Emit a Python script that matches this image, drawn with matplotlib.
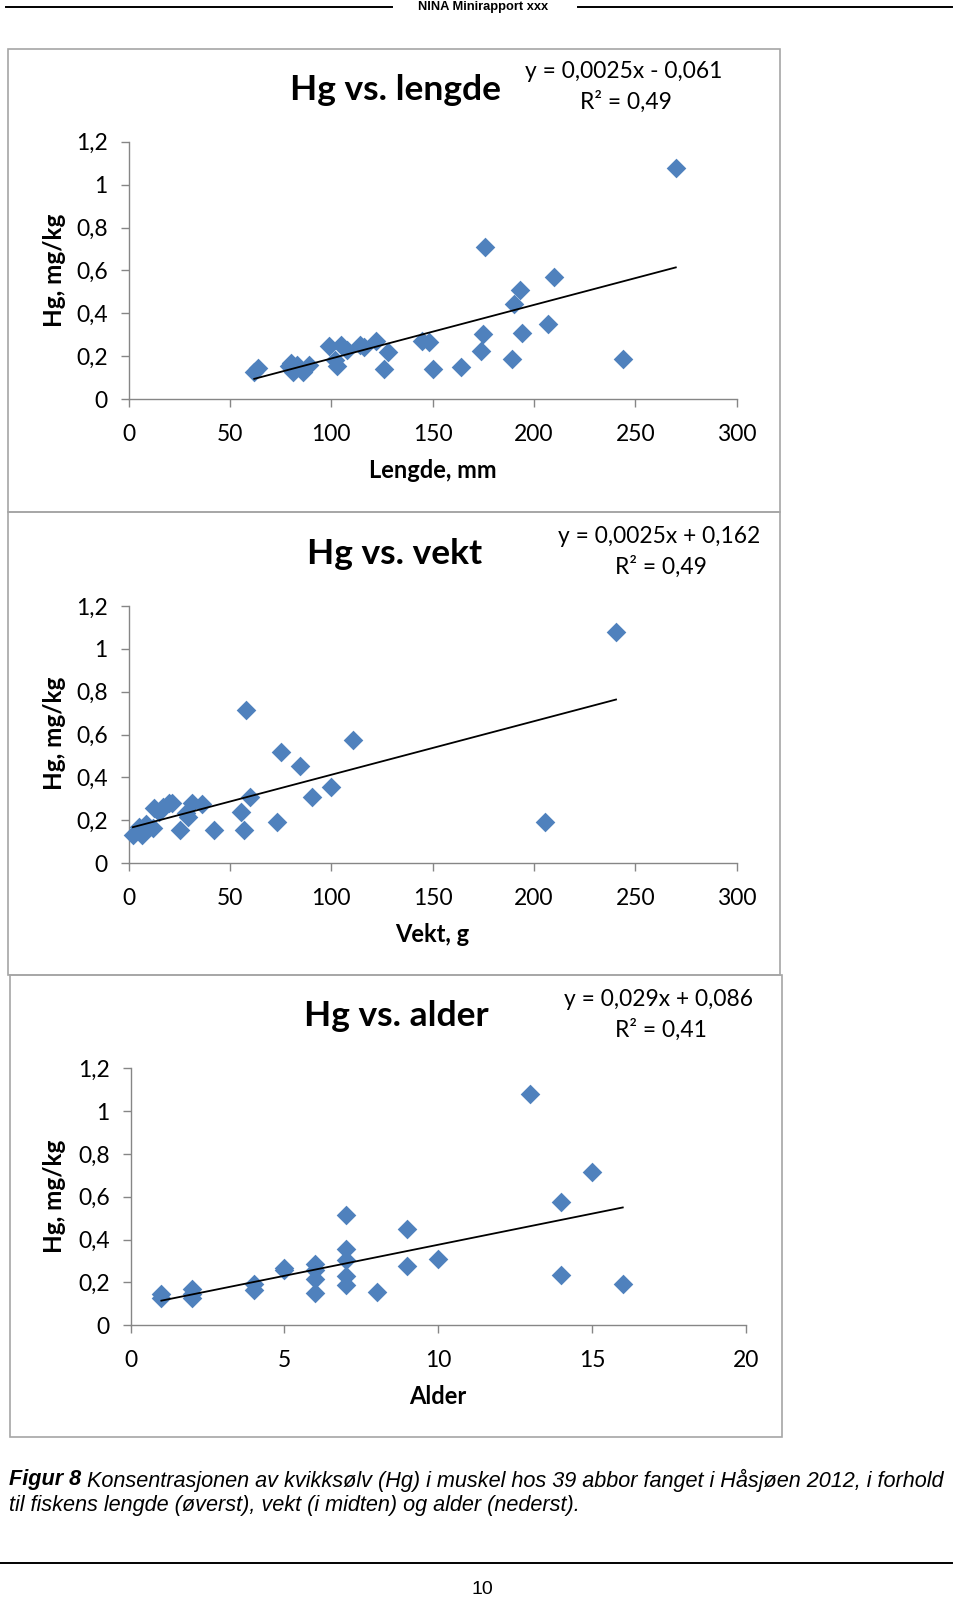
import numpy as np
import matplotlib.pyplot as plt
from matplotlib.patches import Rectangle
from matplotlib.lines import Line2D

# Data
lengde = [62, 64, 79, 80, 81, 83, 86, 89, 99, 102, 103, 105, 108, 114, 116, 122,
          126, 128, 145, 148, 150, 164, 174, 175, 176, 189, 190, 193, 194, 207,
          210, 244, 270]
hg_lengde = [0.125, 0.143, 0.156, 0.167, 0.125, 0.16, 0.125, 0.16, 0.246, 0.182,
             0.154, 0.251, 0.23, 0.254, 0.241, 0.269, 0.142, 0.218, 0.269, 0.265,
             0.142, 0.148, 0.226, 0.303, 0.711, 0.185, 0.445, 0.51, 0.307, 0.35,
             0.568, 0.187, 1.079]

vekt = [2.1, 5.0, 6.6, 8.7, 11.8, 12.4, 14.9, 17, 20.1, 21.6, 25.3, 28.4, 29.4,
        31.1, 36.1, 41.9, 55.3, 57, 57.8, 60.1, 73, 75, 84.8, 90.4, 99.7, 110.9,
        205.6, 240.5]
hg_vekt = [0.131, 0.169, 0.131, 0.182, 0.162, 0.255, 0.239, 0.263, 0.278, 0.278,
           0.154, 0.232, 0.213, 0.278, 0.275, 0.154, 0.236, 0.154, 0.716, 0.309,
           0.193, 0.516, 0.452, 0.309, 0.356, 0.573, 0.193, 1.078]

alder = [1, 1, 2, 2, 2, 4, 4, 5, 5, 6, 6, 6, 6, 7, 7, 7, 7, 7, 8, 9, 9, 10,
         13, 14, 14, 15, 16]
hg_alder = [0.147, 0.129, 0.171, 0.147, 0.129, 0.191, 0.163, 0.268, 0.256,
            0.284, 0.256, 0.217, 0.152, 0.516, 0.357, 0.307, 0.229, 0.186,
            0.155, 0.45, 0.276, 0.31, 1.078, 0.574, 0.237, 0.716, 0.194]

# trend line coefficients (slope, intercept) as printed in the charts
trend_lengde = (0.0025, -0.061)
trend_vekt = (0.0025, 0.162)
trend_alder = (0.029, 0.086)

y_ticks = [0, 0.2, 0.4, 0.6, 0.8, 1.0, 1.2]
y_labels = ['0', '0,2', '0,4', '0,6', '0,8', '1', '1,2']

W, H = 960, 1599
fig = plt.figure(figsize=(W / 100, H / 100), dpi=100)
FONT = 'Lato'
GRAY = '#868686'
BLUE = '#4F81BD'


def fx(x):
    return x / W


def fy(y):
    return 1 - y / H


# header
fig.add_artist(Line2D([fx(6), fx(392)], [fy(7), fy(7)], color='black', lw=1.4))
fig.add_artist(Line2D([fx(578), fx(952)], [fy(7), fy(7)], color='black', lw=1.4))
fig.text(fx(483), fy(7), 'NINA Minirapport xxx', ha='center', va='center',
         fontsize=9.3, fontweight='bold', family='Liberation Sans')

panels = [
    dict(frame=(8, 49, 780, 512), ax=(128.6, 399, 736.6, 141.8),
         x=lengde, y=hg_lengde, trend=trend_lengde, xlim=(0, 300),
         xticks=[0, 50, 100, 150, 200, 250, 300], title='Hg vs. lengde',
         title_pos=(395, 90), eq='y = 0,0025x - 0,061', r2='R² = 0,49',
         eq_pos=(624, 72), xlabel='Lengde, mm', xlabel_y=471, ylabel_y=270),
    dict(frame=(8, 512, 780, 975), ax=(128.6, 863, 736.6, 606),
         x=vekt, y=hg_vekt, trend=trend_vekt, xlim=(0, 300),
         xticks=[0, 50, 100, 150, 200, 250, 300], title='Hg vs. vekt',
         title_pos=(395, 554), eq='y = 0,0025x + 0,162', r2='R² = 0,49',
         eq_pos=(659, 537), xlabel='Vekt, g', xlabel_y=935, ylabel_y=733),
    dict(frame=(10, 975, 782, 1437), ax=(130.6, 1325.3, 745.8, 1068.2),
         x=alder, y=hg_alder, trend=trend_alder, xlim=(0, 20),
         xticks=[0, 5, 10, 15, 20], title='Hg vs. alder',
         title_pos=(396, 1016), eq='y = 0,029x + 0,086', r2='R² = 0,41',
         eq_pos=(659, 1000), xlabel='Alder', xlabel_y=1396, ylabel_y=1196),
]

for p in panels:
    x0, y0, x1, y1 = p['frame']
    fig.add_artist(Rectangle((fx(x0), fy(y1)), fx(x1 - x0), (y1 - y0) / H,
                             transform=fig.transFigure, fill=False,
                             edgecolor='#A6A6A6', lw=1.2))
    l, b, r, t = p['ax']
    ax = fig.add_axes([fx(l), fy(b), fx(r - l), (b - t) / H])
    ax.scatter(p['x'], p['y'], marker='D', s=100, color=BLUE, zorder=3,
               clip_on=False, linewidths=0)
    slope, inter = p['trend']
    xs = np.array([min(p['x']), max(p['x'])])
    ax.plot(xs, slope * xs + inter, color='black', lw=1.3, zorder=4)
    ax.set_xlim(*p['xlim'])
    ax.set_ylim(0, 1.2)
    ax.set_xticks(p['xticks'])
    ax.set_xticklabels([str(v) for v in p['xticks']])
    ax.set_yticks(y_ticks)
    ax.set_yticklabels(y_labels)
    ax.patch.set_alpha(0)
    for s in ['top', 'right']:
        ax.spines[s].set_visible(False)
    for s in ['left', 'bottom']:
        ax.spines[s].set_color(GRAY)
        ax.spines[s].set_linewidth(1.0)
    ax.tick_params(direction='out', length=6, width=1.0, color=GRAY,
                   labelsize=16.5, pad=9)
    ax.tick_params(axis='x', pad=12)
    for lab in ax.get_xticklabels() + ax.get_yticklabels():
        lab.set_family(FONT)
    tx, ty = p['title_pos']
    fig.text(fx(tx), fy(ty), p['title'], ha='center', va='center',
             fontsize=25.5, fontweight='bold', family=FONT)
    ex, ey = p['eq_pos']
    fig.text(fx(ex), fy(ey), p['eq'], ha='center', va='center', fontsize=16.4,
             family=FONT)
    fig.text(fx(ex + 2), fy(ey + 30), p['r2'], ha='center', va='center',
             fontsize=16.4, family=FONT)
    fig.text(fx((l + r) / 2), fy(p['xlabel_y']), p['xlabel'], ha='center',
             va='center', fontsize=17, fontweight='bold', family=FONT)
    fig.text(fx(54), fy(p['ylabel_y']), 'Hg, mg/kg', ha='center', va='center',
             rotation=90, fontsize=17.5, fontweight='bold', family=FONT)

# caption
CAP = 15.6
cap1 = ' Konsentrasjonen av kvikksølv (Hg) i muskel hos 39 abbor fanget i Håsjøen 2012, i forhold'
t = fig.text(fx(9), fy(1480), 'Figur 8', ha='left', va='center', fontsize=CAP,
             fontweight='bold', style='italic', family='Liberation Sans')
fig.canvas.draw()
bb = t.get_window_extent()
fig.text(bb.x1 / W, fy(1480), cap1, ha='left', va='center', fontsize=CAP,
         style='italic', family='Liberation Sans')
fig.text(fx(9), fy(1505), 'til fiskens lengde (øverst), vekt (i midten) og alder (nederst).',
         ha='left', va='center', fontsize=CAP, style='italic',
         family='Liberation Sans')

fig.add_artist(Line2D([fx(0), fx(952)], [fy(1563), fy(1563)], color='black', lw=1.4))
fig.text(fx(482), fy(1589), '10', ha='center', va='center', fontsize=14,
         family='Liberation Sans')

fig.savefig('out.png', dpi=100)
